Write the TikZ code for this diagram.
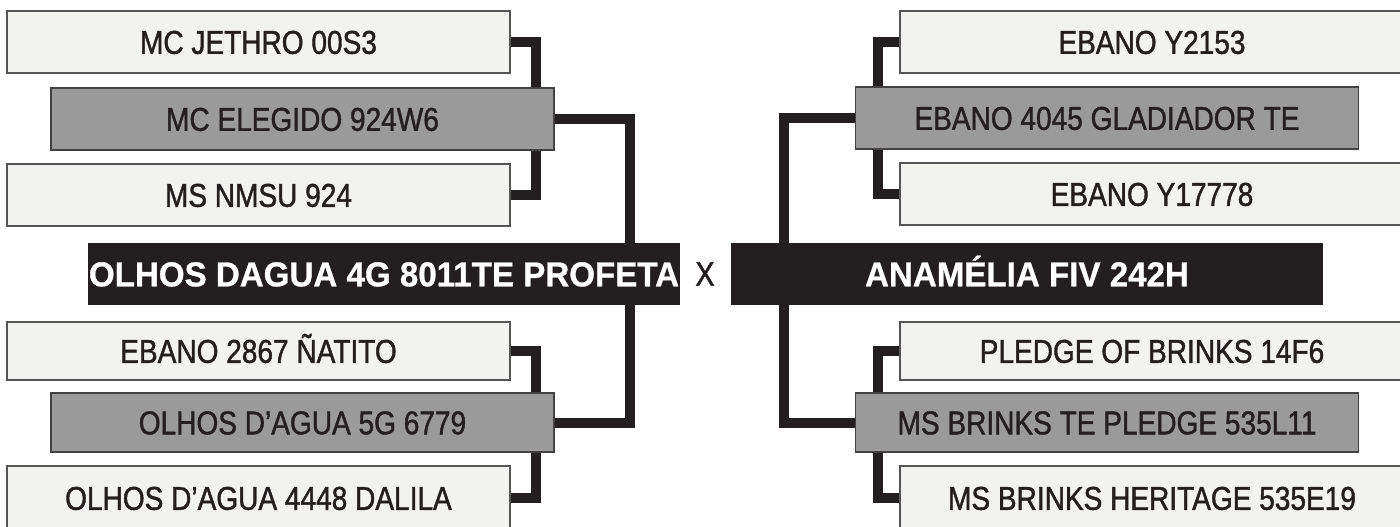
\documentclass[tikz,border=0pt]{standalone}
\usepackage{fontspec}
\newfontfamily\lblfont{Liberation Sans}[FakeStretch=0.85, FakeBold=1.2]
\newfontfamily\hdfont{Liberation Sans}[FakeStretch=0.96, FakeBold=0.8]
\pgfdeclarelayer{background}
\pgfsetlayers{background,main}
\definecolor{ink}{HTML}{231F20}
\definecolor{lightfill}{HTML}{F2F2F0}
\definecolor{midfill}{HTML}{9A9A9A}
\definecolor{edgegray}{HTML}{555555}
\tikzset{
  basebox/.style={inner sep=0pt, outer sep=0pt, minimum width=503pt, minimum height=62pt,
    text height=23.6pt, text depth=0pt, text=ink,
    font=\lblfont\fontsize{33}{34}\selectfont},
  lightbox/.style={basebox, draw=edgegray, line width=1.3pt, fill=lightfill},
  graybox/.style={basebox, draw=ink!85, line width=1.3pt, fill=midfill},
  mainbox/.style={inner sep=0pt, outer sep=0pt, minimum width=592pt, minimum height=62pt,
    fill=ink, draw=none, text=white, text height=24.6pt, text depth=0pt,
    font=\hdfont\bfseries\fontsize{34.5}{36}\selectfont},
  vslabel/.style={inner sep=0pt, text=ink, font=\lblfont\fontsize{34}{35}\selectfont},
  conn/.style={draw=ink, line width=10pt, line join=miter}
}
\begin{document}
\begin{tikzpicture}[x=1pt,y=-1pt]
\useasboundingbox (0,0) rectangle (1400,527);

% left upper family
\node[lightbox] (j1) at (258.5,42) {MC JETHRO 00S3};
\node[graybox] (j2) at (302.5,119) {MC ELEGIDO 924W6};
\node[lightbox] (j3) at (258.5,195) {MS NMSU 924};
% main animals
\node[mainbox] (ml) at (384,274) {OLHOS DAGUA 4G 8011TE PROFETA};
\node[vslabel] (vs) at (705,274) {X};
\node[mainbox] (mr) at (1027,274) {ANAMÉLIA FIV 242H};
% right upper family
\node[lightbox, minimum width=504pt] (r1) at (1152,42) {EBANO Y2153};
\node[graybox] (r2) at (1107,118) {EBANO 4045 GLADIADOR TE};
\node[lightbox, minimum width=504pt] (r3) at (1152,194) {EBANO Y17778};
% left lower family
\node[lightbox, minimum height=58pt] (b1) at (258.5,351) {EBANO 2867 ÑATITO};
\node[graybox, minimum height=59pt] (b2) at (302.5,422.5) {OLHOS D’AGUA 5G 6779};
\node[lightbox, minimum height=64pt] (b3) at (258.5,498) {OLHOS D’AGUA 4448 DALILA};
% right lower family
\node[lightbox, minimum width=504pt, minimum height=58pt] (s1) at (1152,351) {PLEDGE OF BRINKS 14F6};
\node[graybox, minimum height=59pt] (s2) at (1107,422.5) {MS BRINKS TE PLEDGE 535L11};
\node[lightbox, minimum width=504pt, minimum height=64pt] (s3) at (1152,498) {MS BRINKS HERITAGE 535E19};

\coordinate (cl1) at (536,0);
\coordinate (cl2) at (630,0);
\coordinate (cr1) at (878,0);
\coordinate (cr2) at (784,0);

\begin{pgfonlayer}{background}
\fill[white] (0,0) rectangle (1400,527);
\draw[conn] (j1.center) -| (cl1 |- j2.center);
\draw[conn] (j3.center) -| (cl1 |- j2.center);
\draw[conn] (j2.center) -| (cl2 |- ml.center);
\draw[conn] (r1.center) -| (cr1 |- r2.center);
\draw[conn] (r3.center) -| (cr1 |- r2.center);
\draw[conn] (r2.center) -| (cr2 |- mr.center);
\draw[conn] (cl2 |- ml.center) |- (b2.center);
\draw[conn] (b1.center) -| (cl1 |- b2.center);
\draw[conn] (b3.center) -| (cl1 |- b2.center);
\draw[conn] (cr2 |- mr.center) |- (s2.center);
\draw[conn] (s1.center) -| (cr1 |- s2.center);
\draw[conn] (s3.center) -| (cr1 |- s2.center);
\end{pgfonlayer}
\end{tikzpicture}
\end{document}
